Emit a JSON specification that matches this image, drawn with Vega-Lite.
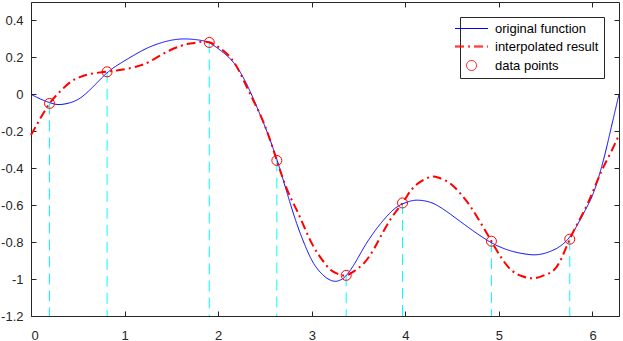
{
  "$schema": "https://vega.github.io/schema/vega-lite/v6.json",
  "width": 588,
  "height": 314,
  "autosize": {"type": "none"},
  "padding": {"left": 31, "top": 2, "right": 4, "bottom": 25},
  "background": "white",
  "config": {
    "view": {"stroke": null},
    "font": "Liberation Sans",
    "axis": {
      "domainColor": "#262626",
      "tickColor": "#262626",
      "labelColor": "#262626",
      "labelFont": "Liberation Sans",
      "labelFontSize": 13,
      "grid": false,
      "tickSize": -5,
      "title": null,
      "domainWidth": 1,
      "tickWidth": 1
    },
    "legend": {"symbolSize": 100, "symbolStrokeWidth": 1}
  },
  "datasets": {
    "orig": [
      {"x": 0, "y": 0, "series": "original function"},
      {"x": 0.1, "y": -0.025, "series": "original function"},
      {"x": 0.2, "y": -0.045, "series": "original function"},
      {"x": 0.3, "y": -0.055, "series": "original function"},
      {"x": 0.42, "y": -0.045, "series": "original function"},
      {"x": 0.52, "y": -0.022, "series": "original function"},
      {"x": 0.61, "y": 0.015, "series": "original function"},
      {"x": 0.7, "y": 0.06, "series": "original function"},
      {"x": 0.81, "y": 0.115, "series": "original function"},
      {"x": 0.93, "y": 0.16, "series": "original function"},
      {"x": 1.06, "y": 0.2, "series": "original function"},
      {"x": 1.18, "y": 0.235, "series": "original function"},
      {"x": 1.31, "y": 0.265, "series": "original function"},
      {"x": 1.47, "y": 0.29, "series": "original function"},
      {"x": 1.63, "y": 0.3, "series": "original function"},
      {"x": 1.78, "y": 0.295, "series": "original function"},
      {"x": 1.9, "y": 0.28, "series": "original function"},
      {"x": 2.02, "y": 0.24, "series": "original function"},
      {"x": 2.165, "y": 0.172, "series": "original function"},
      {"x": 2.3, "y": 0.06, "series": "original function"},
      {"x": 2.415, "y": -0.07, "series": "original function"},
      {"x": 2.52, "y": -0.2, "series": "original function"},
      {"x": 2.63, "y": -0.357, "series": "original function"},
      {"x": 2.74, "y": -0.54, "series": "original function"},
      {"x": 2.84, "y": -0.7, "series": "original function"},
      {"x": 2.93, "y": -0.82, "series": "original function"},
      {"x": 3.02, "y": -0.915, "series": "original function"},
      {"x": 3.12, "y": -0.978, "series": "original function"},
      {"x": 3.2, "y": -1.006, "series": "original function"},
      {"x": 3.26, "y": -1.012, "series": "original function"},
      {"x": 3.31, "y": -1.004, "series": "original function"},
      {"x": 3.37, "y": -0.98, "series": "original function"},
      {"x": 3.46, "y": -0.915, "series": "original function"},
      {"x": 3.556, "y": -0.83, "series": "original function"},
      {"x": 3.65, "y": -0.757, "series": "original function"},
      {"x": 3.735, "y": -0.7, "series": "original function"},
      {"x": 3.85, "y": -0.635, "series": "original function"},
      {"x": 3.95, "y": -0.598, "series": "original function"},
      {"x": 4.04, "y": -0.58, "series": "original function"},
      {"x": 4.13, "y": -0.573, "series": "original function"},
      {"x": 4.27, "y": -0.585, "series": "original function"},
      {"x": 4.4, "y": -0.62, "series": "original function"},
      {"x": 4.52, "y": -0.663, "series": "original function"},
      {"x": 4.7, "y": -0.73, "series": "original function"},
      {"x": 4.876, "y": -0.79, "series": "original function"},
      {"x": 5.02, "y": -0.828, "series": "original function"},
      {"x": 5.16, "y": -0.852, "series": "original function"},
      {"x": 5.29, "y": -0.865, "series": "original function"},
      {"x": 5.41, "y": -0.868, "series": "original function"},
      {"x": 5.54, "y": -0.852, "series": "original function"},
      {"x": 5.66, "y": -0.82, "series": "original function"},
      {"x": 5.757, "y": -0.772, "series": "original function"},
      {"x": 5.84, "y": -0.705, "series": "original function"},
      {"x": 5.93, "y": -0.62, "series": "original function"},
      {"x": 6.02, "y": -0.52, "series": "original function"},
      {"x": 6.12, "y": -0.35, "series": "original function"},
      {"x": 6.2, "y": -0.18, "series": "original function"},
      {"x": 6.2832, "y": 0.0, "series": "original function"}
    ],
    "interp": [
      {"x": 0, "y": -0.22, "series": "interpolated result"},
      {"x": 0.1, "y": -0.13, "series": "interpolated result"},
      {"x": 0.2, "y": -0.048, "series": "interpolated result"},
      {"x": 0.3, "y": 0.01, "series": "interpolated result"},
      {"x": 0.42, "y": 0.066, "series": "interpolated result"},
      {"x": 0.52, "y": 0.093, "series": "interpolated result"},
      {"x": 0.63, "y": 0.11, "series": "interpolated result"},
      {"x": 0.81, "y": 0.123, "series": "interpolated result"},
      {"x": 0.93, "y": 0.13, "series": "interpolated result"},
      {"x": 1.06, "y": 0.142, "series": "interpolated result"},
      {"x": 1.17, "y": 0.157, "series": "interpolated result"},
      {"x": 1.27, "y": 0.178, "series": "interpolated result"},
      {"x": 1.38, "y": 0.21, "series": "interpolated result"},
      {"x": 1.49, "y": 0.24, "series": "interpolated result"},
      {"x": 1.6, "y": 0.262, "series": "interpolated result"},
      {"x": 1.7, "y": 0.275, "series": "interpolated result"},
      {"x": 1.8, "y": 0.283, "series": "interpolated result"},
      {"x": 1.905, "y": 0.282, "series": "interpolated result"},
      {"x": 2.02, "y": 0.25, "series": "interpolated result"},
      {"x": 2.13, "y": 0.2, "series": "interpolated result"},
      {"x": 2.23, "y": 0.12, "series": "interpolated result"},
      {"x": 2.34, "y": 0.004, "series": "interpolated result"},
      {"x": 2.49, "y": -0.158, "series": "interpolated result"},
      {"x": 2.627, "y": -0.358, "series": "interpolated result"},
      {"x": 2.74, "y": -0.52, "series": "interpolated result"},
      {"x": 2.84, "y": -0.627, "series": "interpolated result"},
      {"x": 2.93, "y": -0.73, "series": "interpolated result"},
      {"x": 3.02, "y": -0.825, "series": "interpolated result"},
      {"x": 3.11, "y": -0.895, "series": "interpolated result"},
      {"x": 3.2, "y": -0.95, "series": "interpolated result"},
      {"x": 3.28, "y": -0.972, "series": "interpolated result"},
      {"x": 3.368, "y": -0.98, "series": "interpolated result"},
      {"x": 3.46, "y": -0.955, "series": "interpolated result"},
      {"x": 3.556, "y": -0.915, "series": "interpolated result"},
      {"x": 3.65, "y": -0.85, "series": "interpolated result"},
      {"x": 3.735, "y": -0.771, "series": "interpolated result"},
      {"x": 3.85, "y": -0.67, "series": "interpolated result"},
      {"x": 3.97, "y": -0.588, "series": "interpolated result"},
      {"x": 4.06, "y": -0.52, "series": "interpolated result"},
      {"x": 4.16, "y": -0.474, "series": "interpolated result"},
      {"x": 4.27, "y": -0.447, "series": "interpolated result"},
      {"x": 4.35, "y": -0.45, "series": "interpolated result"},
      {"x": 4.44, "y": -0.47, "series": "interpolated result"},
      {"x": 4.52, "y": -0.5, "series": "interpolated result"},
      {"x": 4.61, "y": -0.55, "series": "interpolated result"},
      {"x": 4.7, "y": -0.61, "series": "interpolated result"},
      {"x": 4.81, "y": -0.7, "series": "interpolated result"},
      {"x": 4.92, "y": -0.795, "series": "interpolated result"},
      {"x": 5.02, "y": -0.88, "series": "interpolated result"},
      {"x": 5.13, "y": -0.95, "series": "interpolated result"},
      {"x": 5.25, "y": -0.985, "series": "interpolated result"},
      {"x": 5.375, "y": -0.996, "series": "interpolated result"},
      {"x": 5.48, "y": -0.98, "series": "interpolated result"},
      {"x": 5.59, "y": -0.95, "series": "interpolated result"},
      {"x": 5.68, "y": -0.875, "series": "interpolated result"},
      {"x": 5.757, "y": -0.784, "series": "interpolated result"},
      {"x": 5.85, "y": -0.69, "series": "interpolated result"},
      {"x": 5.95, "y": -0.59, "series": "interpolated result"},
      {"x": 6.05, "y": -0.47, "series": "interpolated result"},
      {"x": 6.12, "y": -0.39, "series": "interpolated result"},
      {"x": 6.2, "y": -0.31, "series": "interpolated result"},
      {"x": 6.2832, "y": -0.22, "series": "interpolated result"}
    ],
    "pts": [
      {"x": 0.198, "y": -0.049, "series": "data points"},
      {"x": 0.813, "y": 0.122, "series": "data points"},
      {"x": 1.905, "y": 0.281, "series": "data points"},
      {"x": 2.627, "y": -0.358, "series": "data points"},
      {"x": 3.368, "y": -0.98, "series": "data points"},
      {"x": 3.97, "y": -0.588, "series": "data points"},
      {"x": 4.92, "y": -0.795, "series": "data points"},
      {"x": 5.757, "y": -0.784, "series": "data points"}
    ]
  },
  "resolve": {"axis": {"x": "independent", "y": "independent"}},
  "layer": [
    {
      "data": {"name": "pts"},
      "mark": {"type": "rule", "color": "#00ffff", "strokeWidth": 1, "strokeDash": [11, 6]},
      "encoding": {
        "x": {"field": "x", "type": "quantitative", "scale": {"domain": [0, 6.2832], "nice": false, "zero": false},
              "axis": {"orient": "bottom", "values": [0, 1, 2, 3, 4, 5, 6], "labelPadding": 18}},
        "y": {"field": "y", "type": "quantitative", "scale": {"domain": [-1.2, 0.5], "nice": false, "zero": false},
              "axis": {"orient": "left", "values": [-1.2, -1, -0.8, -0.6, -0.4, -0.2, 0, 0.2, 0.4], "labelPadding": 13,
                       "labelExpr": "replace(format(datum.value, '~g'), '\u2212', '-')"}},
        "y2": {"datum": -1.2}
      }
    },
    {
      "data": {"name": "orig"},
      "mark": {"type": "line", "interpolate": "natural", "strokeWidth": 1},
      "encoding": {
        "x": {"field": "x", "type": "quantitative", "axis": {"orient": "top", "values": [0, 1, 2, 3, 4, 5, 6], "labels": false}},
        "y": {"field": "y", "type": "quantitative", "axis": {"orient": "right", "values": [-1.2, -1, -0.8, -0.6, -0.4, -0.2, 0, 0.2, 0.4], "labels": false}},
        "color": {"field": "series", "type": "nominal",
                  "scale": {"domain": ["original function", "interpolated result", "data points"], "range": ["#0000ff", "#ff0000", "#ff0000"]},
                  "legend": {
                    "title": null, "orient": "top-right", "offset": 15, "padding": 5,
                    "strokeColor": "#262626", "fillColor": "white",
                    "labelFont": "Liberation Sans", "labelFontSize": 13, "labelColor": "#000000",
                    "labelLimit": 300, "rowPadding": 4, "labelOffset": 17,
                    "encode": {
                      "symbols": {
                        "update": {
                          "fill": {"value": "transparent"},
                          "opacity": {"value": 1}
                        }
                      }
                    }
                  }},
        "strokeDash": {"field": "series", "type": "nominal",
                       "scale": {"domain": ["original function", "interpolated result", "data points"], "range": [[1, 0], [9, 4, 2, 4], [1, 0]]}}
      }
    },
    {
      "data": {"name": "interp"},
      "mark": {"type": "line", "interpolate": "natural", "strokeWidth": 2},
      "encoding": {
        "x": {"field": "x", "type": "quantitative", "axis": null},
        "y": {"field": "y", "type": "quantitative", "axis": null},
        "color": {"field": "series", "type": "nominal"},
        "strokeDash": {"field": "series", "type": "nominal"}
      }
    },
    {
      "data": {"name": "pts"},
      "mark": {"type": "point", "filled": false, "size": 100, "strokeWidth": 1, "opacity": 1},
      "encoding": {
        "x": {"field": "x", "type": "quantitative", "axis": null},
        "y": {"field": "y", "type": "quantitative", "axis": null},
        "color": {"field": "series", "type": "nominal"},
        "shape": {"field": "series", "type": "nominal",
                  "scale": {"domain": ["original function", "interpolated result", "data points"],
                            "range": ["M-3.3,0H3.3", "M-3.3,-0.1H3.3M-3.3,0.1H3.3", "circle"]}}
      }
    }
  ]
}
